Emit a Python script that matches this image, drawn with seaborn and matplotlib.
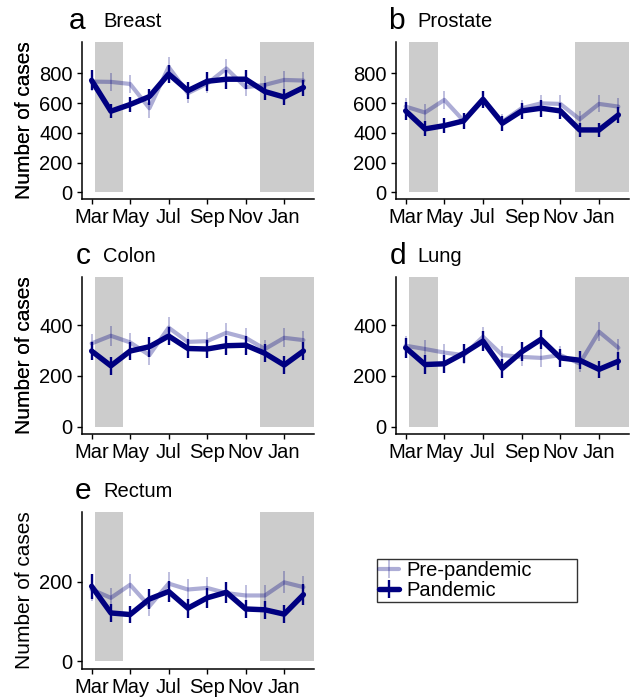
import numpy as np
import pandas as pd
import matplotlib
matplotlib.use("Agg")
import matplotlib.pyplot as plt
import seaborn as sns
from matplotlib.lines import Line2D

# ---------------- data ----------------
months = ["Mar", "Apr", "May", "Jun", "Jul", "Aug", "Sep", "Oct", "Nov", "Dec", "Jan", "Feb"]
tick_labels = ["Mar", "May", "Jul", "Sep", "Nov", "Jan"]

breast_pand = [752, 545, 590, 643, 795, 683, 746, 760, 760, 677, 640, 704]
breast_pand_err = [67, 47, 52, 54, 61, 56, 63, 63, 63, 58, 54, 54]
breast_pre = [744, 742, 728, 565, 842, 666, 730, 832, 706, 722, 755, 751]
breast_pre_err = [60, 62, 58, 64, 64, 66, 60, 66, 58, 58, 60, 56]

prostate_pand = [547, 426, 448, 480, 625, 464, 547, 565, 547, 419, 419, 520]
prostate_pand_err = [58, 50, 48, 52, 59, 52, 56, 56, 56, 49, 49, 54]
prostate_pre = [576, 536, 621, 480, 625, 475, 565, 598, 594, 491, 594, 576]
prostate_pre_err = [55, 55, 58, 52, 58, 52, 55, 57, 57, 52, 57, 55]

colon_pand = [298, 240, 298, 315, 357, 308, 306, 319, 321, 289, 243, 298]
colon_pand_err = [36, 35, 36, 39, 37, 37, 36, 37, 37, 35, 34, 36]
colon_pre = [328, 358, 332, 282, 390, 334, 337, 370, 350, 306, 350, 341]
colon_pre_err = [37, 39, 37, 38, 41, 37, 37, 40, 38, 36, 37, 37]

lung_pand = [311, 245, 248, 289, 337, 230, 295, 344, 271, 262, 226, 258]
lung_pand_err = [40, 36, 36, 38, 38, 37, 37, 38, 36, 36, 34, 36]
lung_pre = [319, 306, 292, 282, 354, 282, 275, 271, 282, 249, 374, 311]
lung_pre_err = [37, 36, 35, 35, 39, 35, 35, 34, 35, 33, 38, 36]

rectum_pand = [189, 122, 118, 157, 176, 134, 160, 174, 132, 130, 119, 168]
rectum_pand_err = [31, 22, 22, 26, 27, 24, 26, 26, 23, 23, 22, 26]
rectum_pre = [181, 160, 193, 139, 196, 181, 185, 172, 166, 166, 199, 187]
rectum_pre_err = [28, 26, 28, 24, 28, 27, 27, 26, 26, 26, 28, 27]

series_names = ["Pre-pandemic", "Pandemic"]

# ---------------- style ----------------
sns.set_style("ticks")
plt.rcParams["font.family"] = ["Liberation Sans", "DejaVu Sans"]
plt.rcParams["text.color"] = "black"
plt.rcParams["axes.labelcolor"] = "black"
plt.rcParams["xtick.color"] = "black"
plt.rcParams["ytick.color"] = "black"

NAVY = "#000080"
LIGHT = (0.0, 0.0, 0.5, 0.32)
GREY = "#cccccc"

W, H = 631, 700
fig = plt.figure(figsize=(W / 100, H / 100), dpi=100)
fig.patch.set_facecolor("white")


def px_axes(l, t, r, b):
    return fig.add_axes([l / W, 1 - b / H, (r - l) / W, (b - t) / H])


panels = [
    ("a", "Breast", breast_pre, breast_pre_err, breast_pand, breast_pand_err,
     [0, 200, 400, 600, 800], (-45, 1010), (82, 42, 314, 199), 85),
    ("b", "Prostate", prostate_pre, prostate_pre_err, prostate_pand, prostate_pand_err,
     [0, 200, 400, 600, 800], (-45, 1010), (396, 42, 629, 199), 405),
    ("c", "Colon", colon_pre, colon_pre_err, colon_pand, colon_pand_err,
     [0, 200, 400], (-28, 589), (82, 277, 314, 434), 91),
    ("d", "Lung", lung_pre, lung_pre_err, lung_pand, lung_pand_err,
     [0, 200, 400], (-28, 589), (396, 277, 629, 434), 406),
    ("e", "Rectum", rectum_pre, rectum_pre_err, rectum_pand, rectum_pand_err,
     [0, 200], (-19, 376), (82, 512, 314, 669), 91),
]

x = np.arange(len(months))
XLIM = (-0.5, 11.55)

for letter, name, pre, pre_err, pand, pand_err, yticks, ylim, box, letter_x in panels:
    l, t, r, b = box
    ax = px_axes(l, t, r, b)
    ax.set_facecolor("white")
    ax.set_xlim(*XLIM)
    ax.set_ylim(*ylim)
    f0 = -ylim[0] / (ylim[1] - ylim[0])
    ax.axvspan(0.15, 1.65, ymin=f0, ymax=1, color=GREY, lw=0, zorder=0)
    ax.axvspan(8.77, XLIM[1], ymin=f0, ymax=1, color=GREY, lw=0, zorder=0)

    df = pd.DataFrame({
        "month": np.concatenate([x, x]),
        "cases": np.concatenate([pre, pand]),
        "period": [series_names[0]] * 12 + [series_names[1]] * 12,
    })
    sns.lineplot(data=df[df.period == series_names[0]], x="month", y="cases",
                 color=LIGHT, lw=3.0, ax=ax, errorbar=None, legend=False, zorder=2)
    ax.errorbar(x, pre, yerr=pre_err, fmt="none", ecolor=LIGHT, elinewidth=1.1,
                capsize=0, zorder=2)
    sns.lineplot(data=df[df.period == series_names[1]], x="month", y="cases",
                 color=NAVY, lw=3.9, ax=ax, errorbar=None, legend=False, zorder=3)
    ax.errorbar(x, pand, yerr=pand_err, fmt="none", ecolor=NAVY, elinewidth=1.7,
                capsize=0, zorder=3)

    ax.set_xlim(*XLIM)
    ax.set_ylim(*ylim)
    ax.set_xticks(x[::2])
    ax.set_xticklabels(tick_labels)
    ax.set_yticks(yticks)
    ax.set_xlabel("")
    ax.set_ylabel("Number of cases", fontsize=15, color="black")
    ax.yaxis.set_label_coords((34 - l) / (r - l), 0.5)
    ax.tick_params(labelsize=14.5, length=3.6, width=1.0, pad=3.0, direction="out",
                   colors="black", labelcolor="black")
    for s in ["top", "right"]:
        ax.spines[s].set_visible(False)
    for s in ["left", "bottom"]:
        ax.spines[s].set_linewidth(1.1)
        ax.spines[s].set_color("black")

    fig.text(letter_x / W, 1 - (t - 13) / H, letter, fontsize=21.5, ha="right",
             va="baseline", color="black")
    fig.text((l + 21) / W, 1 - (t - 15) / H, name, fontsize=14.5, ha="left",
             va="baseline", color="black")

handles = [
    Line2D([], [], color=LIGHT, lw=3.0, marker="|", markersize=13, mew=1.1),
    Line2D([], [], color=NAVY, lw=3.9, marker="|", markersize=13, mew=1.7),
]
leg = fig.legend(handles, series_names, loc="upper left",
                 bbox_to_anchor=(377 / W, 1 - 604 / H, 200 / W, 45 / H),
                 mode="expand", frameon=True, fancybox=False, fontsize=14.5,
                 handlelength=1.0, handletextpad=0.35, borderpad=0.1,
                 labelspacing=0.05, borderaxespad=0)
leg.get_frame().set_edgecolor("black")
leg.get_frame().set_linewidth(1.0)
for txt in leg.get_texts():
    txt.set_color("black")

fig.savefig("out.png", dpi=100, facecolor="white")
